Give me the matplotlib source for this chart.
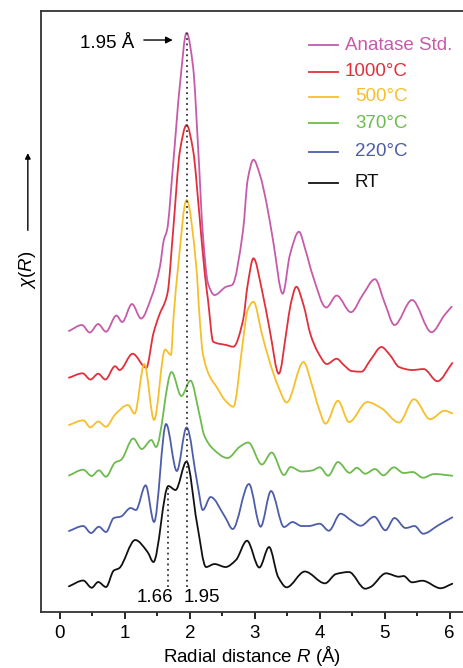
import matplotlib
matplotlib.use("Agg")
import matplotlib.pyplot as plt
from matplotlib.path import Path
from matplotlib.patches import PathPatch, FancyArrowPatch
import numpy as np

plt.rcParams['font.family'] = ['Liberation Sans', 'DejaVu Sans']
plt.rcParams['mathtext.fontset'] = 'custom'
plt.rcParams['mathtext.rm'] = 'Liberation Sans'
plt.rcParams['mathtext.it'] = 'Liberation Sans:italic'
FS = 13.5

# stacked |chi(R)| curves, offsets included
r_rt = [0.14, 0.36, 0.49, 0.59, 0.71, 0.83, 0.91, 1.16, 1.35, 1.44, 1.67, 1.78, 1.95,
        2.11, 2.25, 2.38, 2.55, 2.71, 2.88, 3.07, 3.22, 3.36, 3.49, 3.77, 4.08, 4.25,
        4.45, 4.70, 4.78, 5.02, 5.22, 5.29, 5.42, 5.58, 5.86, 6.04]
chi_rt = [25.7, 31.5, 24.3, 30, 25, 41.5, 43.7, 72, 60, 50, 126, 122, 150.5,
          89, 45, 48, 45, 52, 71.3, 44.5, 65, 35, 24.7, 40.5, 28.7, 38,
          40, 23.3, 25, 38.7, 35.3, 36, 29.7, 31.3, 23.8, 28.3]

r_220 = [0.14, 0.36, 0.48, 0.60, 0.71, 0.83, 0.94, 1.09, 1.17, 1.32, 1.45, 1.635, 1.80,
         1.95, 2.12, 2.20, 2.32, 2.54, 2.66, 2.91, 3.09, 3.25, 3.45, 3.58, 3.72, 3.83,
         4.00, 4.14, 4.32, 4.49, 4.63, 4.84, 5.01, 5.15, 5.32, 5.46, 5.59, 5.83, 6.04]
chi_220 = [81, 86, 79, 85.3, 80, 94, 95.5, 104, 102, 126.7, 90, 188, 141,
           184.5, 127, 102, 115, 95.3, 83, 128, 85.3, 121, 85, 90, 86, 86,
           88.3, 81.3, 98.3, 91.3, 86.3, 95.3, 81.7, 94, 84, 86, 78.3, 87, 94.7]

r_370 = [0.14, 0.36, 0.49, 0.60, 0.71, 0.85, 0.94, 1.13, 1.26, 1.41, 1.48, 1.72, 1.87,
         2.01, 2.15, 2.22, 2.36, 2.58, 2.77, 2.90, 3.11, 3.26, 3.45, 3.55, 3.72, 3.88,
         4.00, 4.13, 4.28, 4.46, 4.57, 4.70, 4.85, 4.98, 5.14, 5.29, 5.43, 5.59, 5.76, 6.04]
chi_370 = [136.5, 142.3, 136, 141.7, 135.3, 149.5, 152, 173.5, 163, 172, 165, 240, 216,
           231.5, 197, 177, 163, 154, 165.3, 169.5, 147.5, 159.5, 137, 145, 140.5, 141.5,
           144.7, 136.3, 150, 139.2, 144.2, 138.3, 143, 136.7, 144.7, 139, 140, 134.3, 138, 136.3]

r_500 = [0.14, 0.36, 0.47, 0.59, 0.71, 0.85, 1.05, 1.15, 1.30, 1.45, 1.62, 1.71, 1.75,
         1.82, 1.95, 2.10, 2.15, 2.20, 2.31, 2.41, 2.54, 2.67, 2.82, 2.89, 2.98, 3.11,
         3.23, 3.37, 3.49, 3.75, 3.88, 3.98, 4.09, 4.28, 4.45, 4.73, 4.95, 5.22, 5.45,
         5.70, 5.92, 6.04]
chi_500 = [187, 191.7, 184.7, 190.5, 185.3, 197.5, 207, 198.3, 248, 192, 262.5, 257, 295.3,
           345.3, 412, 345.3, 295.3, 258.7, 235.3, 225.3, 212, 205.3, 272, 302, 310.3, 278,
           250, 224, 209.5, 250, 227, 204.7, 188.3, 211.3, 190, 210, 203.8, 189.5, 212.8,
           192.8, 201.3, 198.7]

r_1000 = [0.14, 0.35, 0.47, 0.59, 0.70, 0.85, 0.92, 1.12, 1.33, 1.44, 1.54, 1.62, 1.66,
          1.74, 1.85, 1.95, 2.05, 2.15, 2.23, 2.28, 2.36, 2.56, 2.67, 2.82, 2.89, 2.98,
          3.11, 3.23, 3.37, 3.49, 3.55, 3.64, 3.75, 3.86, 3.97, 4.11, 4.26, 4.37, 4.49,
          4.64, 4.78, 4.95, 5.08, 5.22, 5.43, 5.60, 5.81, 6.04]
chi_1000 = [234.3, 238.7, 232.5, 238.3, 232.5, 245.8, 242, 258.3, 244.2, 278.7, 298.7, 310.3, 320,
            378.7, 462, 487, 462, 395.3, 338.7, 312, 270.3, 267, 265.3, 292, 327, 353.7,
            322, 282, 238.3, 282, 307, 325.3, 307, 277, 260, 248, 253.3, 247, 241,
            240.3, 252, 265, 257, 245, 242, 243, 230.8, 249]

r_ana = [0.14, 0.34, 0.46, 0.59, 0.71, 0.87, 0.96, 1.11, 1.25, 1.41, 1.54, 1.60, 1.65,
         1.74, 1.85, 1.95, 2.05, 2.13, 2.20, 2.28, 2.38, 2.56, 2.65, 2.82, 2.89, 2.98,
         3.08, 3.18, 3.28, 3.43, 3.54, 3.68, 3.78, 3.89, 4.10, 4.26, 4.48, 4.66, 4.85,
         5.00, 5.15, 5.42, 5.72, 5.92, 6.03]
chi_ana = [281, 287, 279.5, 288, 280.3, 296.5, 290, 308, 293.5, 315, 345.3, 372, 382,
           445.3, 528.7, 579.3, 545.3, 462, 378.7, 328.7, 317, 325.3, 327, 382, 432, 452.3,
           437, 409, 372, 318.3, 357, 380.3, 362, 337, 304.5, 316.5, 299.8, 317, 332.8,
           309, 287, 312, 279.8, 297, 305.3]

labels = ['Anatase Std.', '1000°C', '500°C', '370°C', '220°C', 'RT']
colors = ['#C65BAA', '#E1303C', '#F5C02C', '#6DBB4E', '#4D5DA8', '#111111']
series = [(r_ana, chi_ana), (r_1000, chi_1000), (r_500, chi_500),
          (r_370, chi_370), (r_220, chi_220), (r_rt, chi_rt)]


def smooth_path(x, y):
    # monotone cubic (pchip-style) segments written as bezier curves
    x = np.asarray(x, float)
    y = np.asarray(y, float)
    h = np.diff(x)
    d = np.diff(y) / h
    m = np.zeros_like(y)
    m[0], m[-1] = d[0], d[-1]
    for k in range(1, len(x) - 1):
        if d[k - 1] * d[k] > 0:
            w1 = 2 * h[k] + h[k - 1]
            w2 = h[k] + 2 * h[k - 1]
            m[k] = (w1 + w2) / (w1 / d[k - 1] + w2 / d[k])
    verts = [(x[0], y[0])]
    codes = [Path.MOVETO]
    for k in range(len(x) - 1):
        verts += [(x[k] + h[k] / 3, y[k] + m[k] * h[k] / 3),
                  (x[k + 1] - h[k] / 3, y[k + 1] - m[k + 1] * h[k] / 3),
                  (x[k + 1], y[k + 1])]
        codes += [Path.CURVE4] * 3
    return Path(verts, codes)


fig = plt.figure(figsize=(4.64, 6.68), dpi=100)
ax = fig.add_axes([0.0884, 0.0838, 0.9116, 0.8997])

for (r, chi), c in zip(series, colors):
    ax.add_patch(PathPatch(smooth_path(r, chi), fill=False, edgecolor=c, lw=1.3,
                           joinstyle='round', capstyle='round'))

# first-shell positions
ax.plot([1.95, 1.95], [25, 579], ls=(0, (1, 2)), color='#333333', lw=1.3)
ax.plot([1.666, 1.666], [25, 124], ls=(0, (1, 2)), color='#333333', lw=1.3)
ax.text(1.46, 15, '1.66', ha='center', va='center', fontsize=FS)
ax.text(2.18, 15, '1.95', ha='center', va='center', fontsize=FS)

ax.annotate('', xy=(1.78, 572), xytext=(1.25, 572),
            arrowprops=dict(arrowstyle='-|>', color='k', lw=1.0, mutation_scale=10))
ax.text(0.73, 569, '1.95 Å', ha='center', va='center', fontsize=FS)

# legend drawn by hand, colored labels
rows = [0.943, 0.899, 0.857, 0.813, 0.766, 0.714]
indent = [0.718, 0.718, 0.742, 0.742, 0.742, 0.742]
for lab, c, y, xt in zip(labels, colors, rows, indent):
    ax.plot([0.633, 0.702], [y, y], color=c, lw=1.3, transform=ax.transAxes)
    ax.text(xt, y, lab, color=c, fontsize=FS, va='center', ha='left', transform=ax.transAxes)

ax.set_xlim(-0.29, 6.22)
ax.set_ylim(0, 601)
ax.set_yticks([])
ax.set_xticks(np.arange(0, 7, 1))
ax.set_xticks(np.arange(0.5, 6, 1), minor=True)
ax.tick_params(axis='x', which='major', direction='out', length=5, width=1.2, labelsize=FS, pad=4)
ax.tick_params(axis='x', which='minor', direction='out', length=3, width=1.2)
for s in ['left', 'bottom', 'top']:
    ax.spines[s].set_linewidth(1.3)
    ax.spines[s].set_color('#333333')
ax.spines['right'].set_visible(False)
ax.set_xlabel('Radial distance $R$ (Å)', fontsize=FS, labelpad=2)

fig.text(0.060, 0.596, r'$\chi$($R$)', rotation=90, ha='center', va='center', fontsize=FS)
fig.add_artist(FancyArrowPatch((0.060, 0.651), (0.060, 0.775),
               transform=fig.transFigure, arrowstyle='-|>', mutation_scale=8,
               color='k', lw=1.0))

fig.savefig('out.png', dpi=100)
